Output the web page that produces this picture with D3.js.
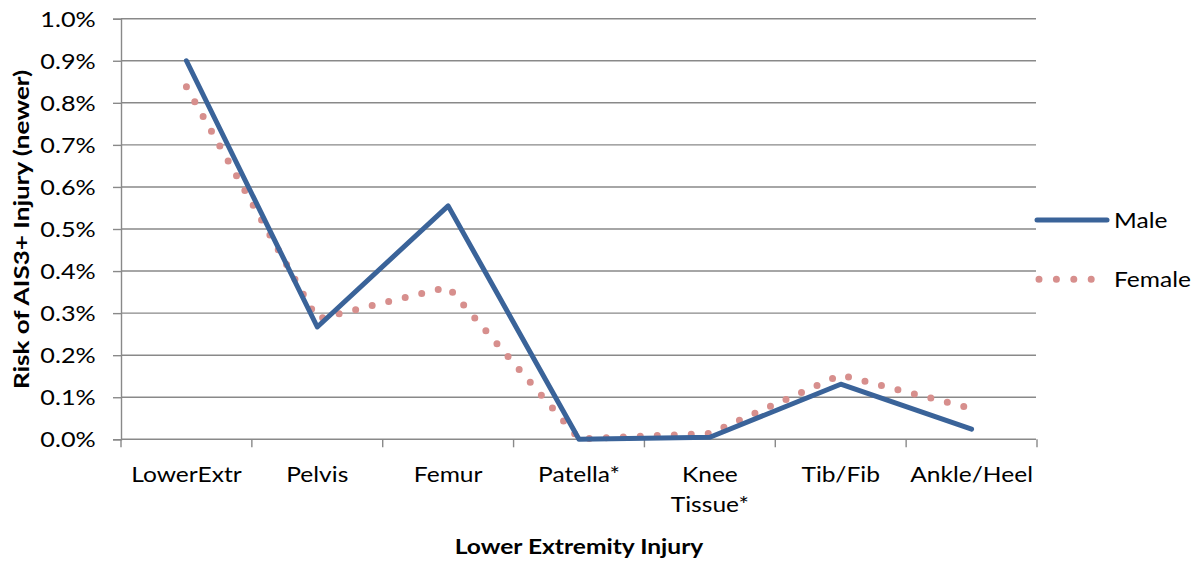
<!DOCTYPE html>
<html>
<head>
<meta charset="utf-8">
<script src="https://cdn.jsdelivr.net/npm/d3@7"></script>
<style>
  html, body { margin: 0; padding: 0; background: #fff; }
  svg text { font-family: Lato, "Open Sans", sans-serif; fill: #000; }
</style>
</head>
<body>
<svg id="chart" width="1201" height="564"></svg>
<script>
// Risk of AIS3+ lower-extremity injury by body region (percent)
const categories = ["LowerExtr", "Pelvis", "Femur", "Patella*", "Knee Tissue*", "Tib/Fib", "Ankle/Heel"];
const maleRisk   = [0.900, 0.267, 0.555, 0.000, 0.005, 0.131, 0.024];
const femaleRisk = [0.838, 0.286, 0.362, 0.001, 0.014, 0.153, 0.073];
const yTickValues = [0.0, 0.1, 0.2, 0.3, 0.4, 0.5, 0.6, 0.7, 0.8, 0.9, 1.0];
const seriesNames = ["Male", "Female"];

const svg = d3.select("#chart");
const plot = { left: 121, right: 1037, top: 18.7, bottom: 439.3 };
const FONT = 21;       // label font size
const WIDEN = 1.17;    // horizontal stretch applied to the label glyphs

const x = d3.scaleBand().domain(categories).range([plot.left, plot.right]).padding(0);
const y = d3.scaleLinear().domain([0, 1.0]).range([plot.bottom, plot.top]);
const cx = d => x(d) + x.bandwidth() / 2;

const gridColor = "#898989";

// draws a text label at (px, py), widened along its own baseline
function label(parent, px, py, str, opts = {}) {
  const g = parent.append("g")
    .attr("transform", `translate(${px},${py})${opts.rotate ? ` rotate(${opts.rotate})` : ""} scale(${opts.widen || WIDEN},1)`);
  return g.append("text")
    .attr("x", 0).attr("y", 0)
    .attr("text-anchor", opts.anchor || "start")
    .attr("font-size", opts.size || FONT)
    .attr("font-weight", opts.weight || "normal")
    .text(str);
}

// horizontal gridlines
svg.append("g").selectAll("line").data(yTickValues.filter(v => v > 0)).join("line")
  .attr("x1", plot.left).attr("x2", 1036)
  .attr("y1", d => y(d)).attr("y2", d => y(d))
  .attr("stroke", gridColor).attr("stroke-width", 1.4);

// y axis line and ticks
const yAxis = svg.append("g").attr("transform", `translate(${plot.left},0)`)
  .call(d3.axisLeft(y).tickValues(yTickValues).tickSize(8).tickFormat(""));
yAxis.select(".domain").attr("stroke", gridColor).attr("stroke-width", 1.4);
yAxis.selectAll(".tick line").attr("stroke", gridColor).attr("stroke-width", 1.4);
yAxis.selectAll(".tick text").remove();

// y tick labels
const yLabels = svg.append("g");
yTickValues.forEach(v => {
  label(yLabels, 95.7, y(v) + 7.8, v.toFixed(1) + "%", { anchor: "end", widen: 1.2 });
});

// x axis baseline and category boundary ticks
const boundaries = categories.map(c => x(c)).concat([plot.right]);
svg.append("line").attr("x1", plot.left).attr("x2", 1036)
  .attr("y1", plot.bottom).attr("y2", plot.bottom)
  .attr("stroke", gridColor).attr("stroke-width", 1.4);
svg.append("g").selectAll("line").data(boundaries).join("line")
  .attr("x1", d => d).attr("x2", d => d)
  .attr("y1", plot.bottom).attr("y2", plot.bottom + 8)
  .attr("stroke", gridColor).attr("stroke-width", 1.4);

// category labels (long multi-word names wrap onto two lines)
const catGroup = svg.append("g");
categories.forEach(c => {
  const words = c.includes(" ") && c.length > 10 ? c.split(" ") : [c];
  words.forEach((w, i) => label(catGroup, cx(c), 482.3 + i * 30, w, { anchor: "middle" }));
});

// axis titles
label(svg, 579, 554, "Lower Extremity Injury", { anchor: "middle", weight: "bold" });
label(svg, 29, 229.5, "Risk of AIS3+ Injury (newer)", { anchor: "middle", weight: "bold", rotate: -90, widen: 1.24 });

// series lines
const line = d3.line().x((d, i) => cx(categories[i])).y(d => y(d));
const maleColor = "#3a6399", femaleColor = "#d78f8d";

svg.append("path").datum(femaleRisk).attr("d", line)
  .attr("fill", "none").attr("stroke", femaleColor).attr("stroke-width", 7)
  .attr("stroke-linecap", "round").attr("stroke-dasharray", "0 17");
svg.append("path").datum(maleRisk).attr("d", line)
  .attr("fill", "none").attr("stroke", maleColor).attr("stroke-width", 5)
  .attr("stroke-linejoin", "round").attr("stroke-linecap", "round");

// legend
const legend = svg.append("g");
legend.append("line").attr("x1", 1037).attr("x2", 1107).attr("y1", 220).attr("y2", 220)
  .attr("stroke", maleColor).attr("stroke-width", 5).attr("stroke-linecap", "round");
legend.append("line").attr("x1", 1039).attr("x2", 1093).attr("y1", 279.3).attr("y2", 279.3)
  .attr("stroke", femaleColor).attr("stroke-width", 7).attr("stroke-linecap", "round")
  .attr("stroke-dasharray", "0 17.4");
seriesNames.forEach((s, i) => label(legend, 1114, i === 0 ? 227.5 : 286.5, s));
</script>
</body>
</html>
